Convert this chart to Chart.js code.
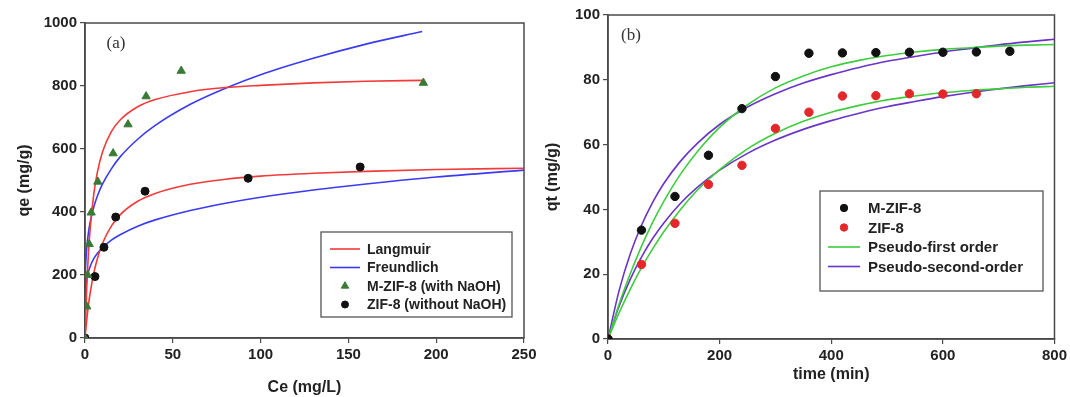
<!DOCTYPE html>
<html>
<head>
<meta charset="utf-8">
<script src="https://cdn.jsdelivr.net/npm/chart.js@4.4.0/dist/chart.umd.min.js"></script>
<style>
  body { margin: 0; background: #fff; overflow: hidden; }
  #wrap { position: relative; width: 1070px; height: 397px; }
  canvas { position: absolute; top: 0; }
  #chartA { left: 0; }
  #chartB { left: 540px; }
</style>
</head>
<body>
<div id="wrap">
  <canvas id="chartA" width="545" height="397"></canvas>
  <canvas id="chartB" width="530" height="397"></canvas>
</div>
<script>
// ---- (a) isotherms ----
var ceTri = [0, 1, 1.5, 2.4, 3.5, 7.3, 16, 24.5, 34.8, 54.8, 192.7];
var qeTri = [0, 100, 200, 298, 398, 496, 586, 678, 767, 848, 810];
var ceDot = [0, 5.7, 10.8, 17.5, 34.2, 92.9, 156.7];
var qeDot = [0, 195, 288, 384, 466, 507, 543];

var ceLangM = [0, 1, 2, 3, 5, 7, 10, 15, 20, 30, 40, 60, 80, 100, 130, 160, 192];
var qeLangM = [0, 162, 272, 351, 457, 525, 591, 655, 692, 734, 757, 782, 795, 802, 810, 815, 818];
var ceFreuM = [0, 0.2, 0.5, 1, 2, 3, 5, 7, 10, 15, 20, 30, 40, 60, 80, 100, 130, 160, 192];
var qeFreuM = [0, 197, 243, 286, 336, 369, 416, 450, 489, 537, 575, 631, 675, 742, 793, 836, 888, 933, 973];
var ceLangZ = [0, 1, 2, 3, 5, 7, 10, 15, 20, 30, 40, 60, 80, 100, 130, 160, 200, 250];
var qeLangZ = [0, 58, 106, 145, 206, 251, 301, 355, 391, 434, 459, 488, 504, 514, 523, 529, 535, 539];
var ceFreuZ = [0, 0.2, 0.5, 1, 2, 3, 5, 7, 10, 15, 20, 30, 40, 60, 80, 100, 130, 160, 200, 250];
var qeFreuZ = [0, 136, 162, 185, 211, 228, 252, 268, 287, 311, 328, 355, 375, 405, 428, 447, 470, 489, 511, 533];

var xTicksA = [0, 50, 100, 150, 200, 250];
var yTicksA = [0, 200, 400, 600, 800, 1000];

// ---- (b) kinetics ----
var tM = [0, 60, 120, 180, 240, 300, 360, 420, 480, 540, 600, 660, 720];
var qtM = [0, 33.6, 44.0, 56.7, 71.1, 81.0, 88.2, 88.3, 88.4, 88.5, 88.5, 88.6, 88.8];
var tZ = [0, 60, 120, 180, 240, 300, 360, 420, 480, 540, 600, 660];
var qtZ = [0, 23.0, 35.7, 47.7, 53.6, 65.0, 70.0, 75.0, 75.1, 75.7, 75.6, 75.7];

var tFit = [0, 20, 40, 60, 80, 100, 130, 160, 200, 250, 300, 350, 400, 450, 500, 550, 600, 650, 700, 750, 800];
var pfoM = [0, 10.8, 20.2, 28.6, 36.0, 42.5, 50.9, 57.8, 65.3, 72.3, 77.5, 81.2, 84.0, 86.0, 87.5, 88.6, 89.4, 89.9, 90.4, 90.7, 90.9];
var psoM = [0, 15.0, 26.3, 35.1, 42.2, 48.0, 54.9, 60.4, 66.2, 71.6, 75.7, 79.0, 81.6, 83.8, 85.7, 87.2, 88.6, 89.7, 90.8, 91.7, 92.5];
var pfoZ = [0, 8.1, 15.4, 22.0, 27.8, 33.1, 40.0, 45.9, 52.3, 58.7, 63.5, 67.2, 70.0, 72.1, 73.8, 75.0, 76.0, 76.7, 77.2, 77.7, 78.0];
var psoZ = [0, 10.2, 18.5, 25.3, 31.0, 35.8, 41.9, 46.8, 52.1, 57.3, 61.4, 64.7, 67.4, 69.7, 71.7, 73.3, 74.8, 76.1, 77.2, 78.2, 79.1];

var xTicksB = [0, 200, 400, 600, 800];
var yTicksB = [0, 20, 40, 60, 80, 100];

var RED = '#f23a3a', BLUE = '#3a3af0', GREEN = '#3fcc3f', PURPLE = '#6a34c8';
var FONT = '"Liberation Sans", Arial, sans-serif';
var AXIS = '#4a4a4a';

function pts(xs, ys) {
  return xs.map(function(x, i) { return {x: x, y: ys[i]}; });
}

function curve(label, xs, ys, color) {
  return {
    label: label, data: pts(xs, ys), showLine: true, borderColor: color,
    borderWidth: 1.6, pointRadius: 0, cubicInterpolationMode: 'monotone', order: 2
  };
}

function marks(label, xs, ys, color, style, r) {
  return {
    label: label, data: pts(xs, ys), showLine: false, pointStyle: style,
    pointRadius: r, backgroundColor: color, borderColor: color, borderWidth: 1, order: 1
  };
}

function axis(min, max, ticks, title, fit, tpad) {
  return {
    type: 'linear', min: min, max: max,
    afterBuildTicks: function(s) { s.ticks = ticks.map(function(v) { return {value: v}; }); },
    afterFit: fit,
    ticks: {
      font: {family: FONT, size: 15, weight: 'bold'}, color: '#222', padding: 3, maxRotation: 0,
      callback: function(v) { return String(v); }
    },
    grid: {drawOnChartArea: false, tickLength: 5, color: AXIS, lineWidth: 1.2},
    border: {color: AXIS, width: 1.5},
    title: {display: true, text: title, color: '#222', font: {family: FONT, size: 16, weight: 'bold'}, padding: tpad}
  };
}

// frame round the plot area
var framePlugin = {
  id: 'frame',
  beforeDatasetsDraw: function(chart) {
    var a = chart.chartArea, c = chart.ctx;
    c.save();
    c.strokeStyle = AXIS;
    c.lineWidth = 1.5;
    c.strokeRect(a.left, a.top, a.right - a.left, a.bottom - a.top);
    c.restore();
  }
};

// boxed legend inside the plot + panel tag
var boxLegend = {
  id: 'boxLegend',
  afterDraw: function(chart, args, o) {
    var c = chart.ctx;
    c.save();
    c.font = '17px "Liberation Serif", "Times New Roman", serif';
    c.fillStyle = '#333';
    c.textBaseline = 'middle';
    c.textAlign = 'center';
    c.fillText(o.tag, o.tagX, o.tagY);

    c.fillStyle = '#fff';
    c.fillRect(o.x, o.y, o.w, o.h);
    c.strokeStyle = '#555';
    c.lineWidth = 1.3;
    c.strokeRect(o.x, o.y, o.w, o.h);
    c.font = 'bold ' + o.size + 'px ' + FONT;
    c.textAlign = 'left';
    o.rows.forEach(function(k, i) {
      var ds = chart.data.datasets[k];
      var y = o.y + o.first + i * o.gap;
      if (ds.showLine) {
        c.strokeStyle = ds.borderColor;
        c.lineWidth = 1.6;
        c.beginPath();
        c.moveTo(o.lineX0, y);
        c.lineTo(o.lineX1, y);
        c.stroke();
      } else {
        c.fillStyle = ds.backgroundColor;
        c.strokeStyle = ds.borderColor;
        c.lineWidth = 1;
        Chart.helpers.drawPoint(c, {pointStyle: ds.pointStyle, radius: ds.pointRadius - 0.5, borderWidth: 1},
          (o.lineX0 + o.lineX1) / 2, y);
      }
      c.fillStyle = '#222';
      c.fillText(ds.label, o.textX, y + 1);
    });
    c.restore();
  }
};

document.addEventListener("DOMContentLoaded", function() {
  new Chart(document.getElementById('chartA').getContext('2d'), {
    type: 'scatter',
    data: {
      datasets: [
        marks('M-ZIF-8 (with NaOH)', ceTri, qeTri, '#3b7a36', 'triangle', 4.8),
        marks('ZIF-8 (without NaOH)', ceDot, qeDot, '#111', 'circle', 4),
        curve('Langmuir', ceLangM, qeLangM, RED),
        curve('Freundlich', ceFreuM, qeFreuM, BLUE),
        curve('Langmuir', ceLangZ, qeLangZ, RED),
        curve('Freundlich', ceFreuZ, qeFreuZ, BLUE)
      ]
    },
    options: {
      responsive: false,
      animation: false,
      layout: {padding: {top: 23, right: 21, left: 0, bottom: 0}},
      scales: {
        x: axis(0, 250, xTicksA, 'Ce (mg/L)', function(s) { s.height = 59; }, {top: 0, bottom: 0}),
        y: axis(0, 1000, yTicksA, 'qe (mg/g)', function(s) { s.width = 85; }, {top: 15, bottom: 0})
      },
      plugins: {
        legend: {display: false},
        tooltip: {enabled: false},
        boxLegend: {
          tag: '(a)', tagX: 116, tagY: 44,
          x: 321, y: 232, w: 191, h: 85, first: 17, gap: 18.5, size: 14,
          lineX0: 330, lineX1: 360, textX: 367,
          rows: [2, 3, 0, 1]
        }
      }
    },
    plugins: [framePlugin, boxLegend]
  });

  new Chart(document.getElementById('chartB').getContext('2d'), {
    type: 'scatter',
    data: {
      datasets: [
        marks('M-ZIF-8', tM, qtM, '#111', 'circle', 4.2),
        marks('ZIF-8', tZ, qtZ, '#e5262a', 'circle', 4.2),
        curve('Pseudo-first order', tFit, pfoM, GREEN),
        curve('Pseudo-second-order', tFit, psoM, PURPLE),
        curve('Pseudo-first order', tFit, pfoZ, GREEN),
        curve('Pseudo-second-order', tFit, psoZ, PURPLE)
      ]
    },
    options: {
      responsive: false,
      animation: false,
      layout: {padding: {top: 15, right: 12, left: 0, bottom: 0}},
      scales: {
        x: axis(0, 800, xTicksB, 'time (min)', function(s) { s.height = 58; }, {top: 0, bottom: 13}),
        y: axis(0, 100, yTicksB, 'qt (mg/g)', function(s) { s.width = 68; }, {top: 3, bottom: 0})
      },
      plugins: {
        legend: {display: false},
        tooltip: {enabled: false},
        boxLegend: {
          tag: '(b)', tagX: 91, tagY: 36,
          x: 280, y: 191, w: 223, h: 100, first: 17, gap: 19.5, size: 15,
          lineX0: 288, lineX1: 320, textX: 328,
          rows: [0, 1, 2, 3]
        }
      }
    },
    plugins: [framePlugin, boxLegend]
  });
});
</script>
</body>
</html>
